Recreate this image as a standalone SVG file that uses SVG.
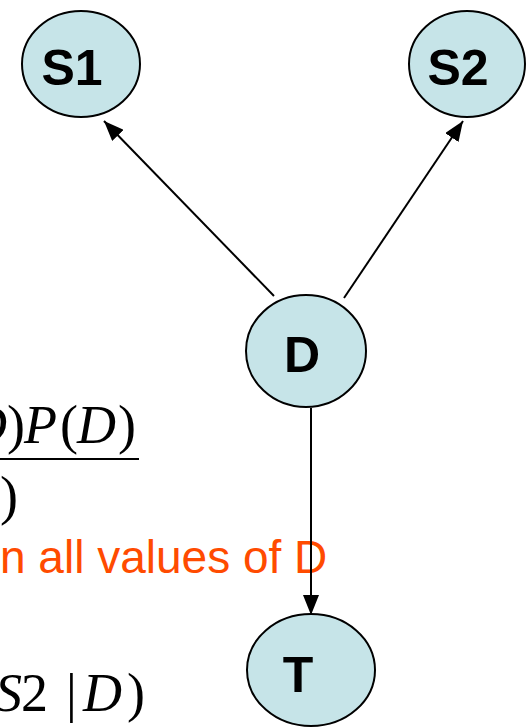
<svg xmlns="http://www.w3.org/2000/svg" width="527" height="727" viewBox="0 0 527 727">
  <style>
    .node ellipse { fill: #C6E4E8; stroke: #000; stroke-width: 2; }
    .node text { font-family: "Liberation Sans", Arial, sans-serif; font-weight: bold; font-size: 50px; text-anchor: middle; fill: #000; }
    .edge { stroke: #000; stroke-width: 2; fill: none; marker-end: url(#arrow); }
    .math { font-family: "Liberation Serif", "Times New Roman", serif; font-size: 54px; fill: #000; }
    .math .it { font-style: italic; }
    .note { font-family: "Liberation Sans", Arial, sans-serif; font-size: 46px; fill: #FF4B00; }
  </style>
  <defs>
    <marker id="arrow" viewBox="0 0 20 16" refX="20" refY="8" markerWidth="20" markerHeight="16" markerUnits="userSpaceOnUse" orient="auto">
      <path d="M0,0 L20,8 L0,16 z" fill="#000"/>
    </marker>
  </defs>
  <rect width="527" height="727" fill="#fff"/>

  <!-- formula fragments on the left -->
  <g id="formula">
    <text class="math" y="443"><tspan class="it" x="-32">D</tspan><tspan x="7">)</tspan><tspan class="it" x="24">P</tspan><tspan x="60">(</tspan><tspan class="it" x="77">D</tspan><tspan x="118">)</tspan></text>
    <line x1="0" y1="459" x2="139" y2="459" stroke="#000" stroke-width="2.2"/>
    <text class="math" x="0" y="514">)</text>
    <text class="note" x="0" y="573">n all values of D</text>
    <text class="math" y="711"><tspan class="it" x="-5">S</tspan><tspan x="21">2</tspan><tspan x="66">|</tspan><tspan class="it" x="83">D</tspan><tspan x="127">)</tspan></text>
  </g>

  <!-- connectors -->
  <g id="edges">
    <line class="edge" x1="274" y1="296" x2="104" y2="121"/>
    <line class="edge" x1="344" y1="298" x2="463" y2="121"/>
    <line class="edge" x1="311" y1="408" x2="311" y2="615"/>
  </g>

  <!-- nodes -->
  <g id="S1" class="node">
    <ellipse cx="81" cy="64" rx="59" ry="53"/>
    <text x="72" y="85">S1</text>
  </g>
  <g id="S2" class="node">
    <ellipse cx="467" cy="64" rx="58" ry="53"/>
    <text x="458" y="85">S2</text>
  </g>
  <g id="D" class="node">
    <ellipse cx="306" cy="351" rx="60" ry="56"/>
    <text x="302" y="372">D</text>
  </g>
  <g id="T" class="node">
    <ellipse cx="311" cy="670" rx="64" ry="56"/>
    <text x="298" y="692">T</text>
  </g>
</svg>
